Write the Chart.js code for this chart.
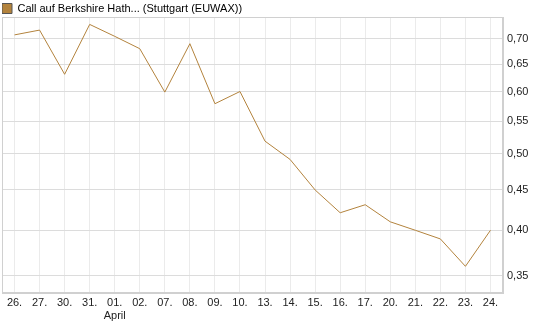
<!DOCTYPE html>
<html>
<head>
<meta charset="utf-8">
<script src="https://cdn.jsdelivr.net/npm/chart.js@4/dist/chart.umd.min.js"></script>
<style>
html,body{margin:0;padding:0;background:#fff;}
#wrap{position:relative;width:545px;height:327px;}
</style>
</head>
<body>
<div id="wrap"><canvas id="c" width="545" height="327"></canvas></div>
<script>
const categories = ["26.","27.","30.","31.","01.","02.","07.","08.","09.","10.","13.","14.","15.","16.","17.","20.","21.","22.","23.","24."];
const monthLabels = {"01.":"April"};
const prices = [0.708,0.718,0.631,0.730,0.705,0.680,0.599,0.690,0.579,0.600,0.519,0.492,0.450,0.421,0.431,0.410,0.400,0.390,0.360,0.400];
const yTicks = [0.35,0.40,0.45,0.50,0.55,0.60,0.65,0.70];
const seriesName = "Call auf Berkshire Hath... (Stuttgart (EUWAX))";

const lineColor = "#b3833d";
const FONT = "'Liberation Sans', Arial, sans-serif";

const frame = {
  id:'frame',
  afterDraw(chart){
    const a = chart.chartArea, ctx = chart.ctx;
    ctx.save();
    ctx.strokeStyle = '#d0d0d0';
    ctx.lineWidth = 1;
    ctx.strokeRect(Math.round(a.left)+0.5, Math.round(a.top)+0.5, Math.round(a.right-a.left)-1, Math.round(a.bottom-a.top)-1);
    ctx.restore();
  }
};

new Chart(document.getElementById('c'), {
  type:'line',
  data:{
    labels: categories.map(c => monthLabels[c] ? [c, monthLabels[c]] : c),
    datasets:[{
      label: seriesName,
      data: prices,
      borderColor: lineColor,
      backgroundColor: lineColor,
      borderWidth: 1,
      pointRadius: 0,
      tension: 0,
      fill: false
    }]
  },
  options:{
    responsive:false,
    animation:false,
    layout:{padding:{left:2,right:0,top:3,bottom:0}},
    plugins:{
      legend:{
        display:true,
        align:'start',
        maxHeight:14,
        labels:{
          boxWidth:10, boxHeight:10, padding:0,
          color:'#222',
          font:{family:FONT,size:11},
          generateLabels(chart){
            return [{text:seriesName, fillStyle:lineColor, strokeStyle:'#555', lineWidth:1, hidden:false, datasetIndex:0}];
          }
        }
      },
      tooltip:{enabled:false}
    },
    scales:{
      x:{
        type:'category',
        offset:true,
        grid:{offset:false, color:'#ebebeb', drawTicks:false},
        border:{display:true, color:'#d0d0d0'},
        ticks:{color:'#222', font:{family:FONT,size:11}, padding:3, maxRotation:0, autoSkip:false},
        afterFit(s){ s.height = 34; }
      },
      y:{
        type:'logarithmic',
        position:'right',
        min:0.333, max:0.746,
        grid:{color:'#dcdcdc', drawTicks:false},
        border:{display:true, color:'#d0d0d0'},
        ticks:{color:'#222', font:{family:FONT,size:11}, padding:4,
          callback:(v)=>v.toFixed(2).replace('.',',')},
        afterBuildTicks(s){ s.ticks = yTicks.map(v=>({value:v})); },
        afterFit(s){ s.width = 42; }
      }
    }
  },
  plugins:[frame]
});
</script>
</body>
</html>
